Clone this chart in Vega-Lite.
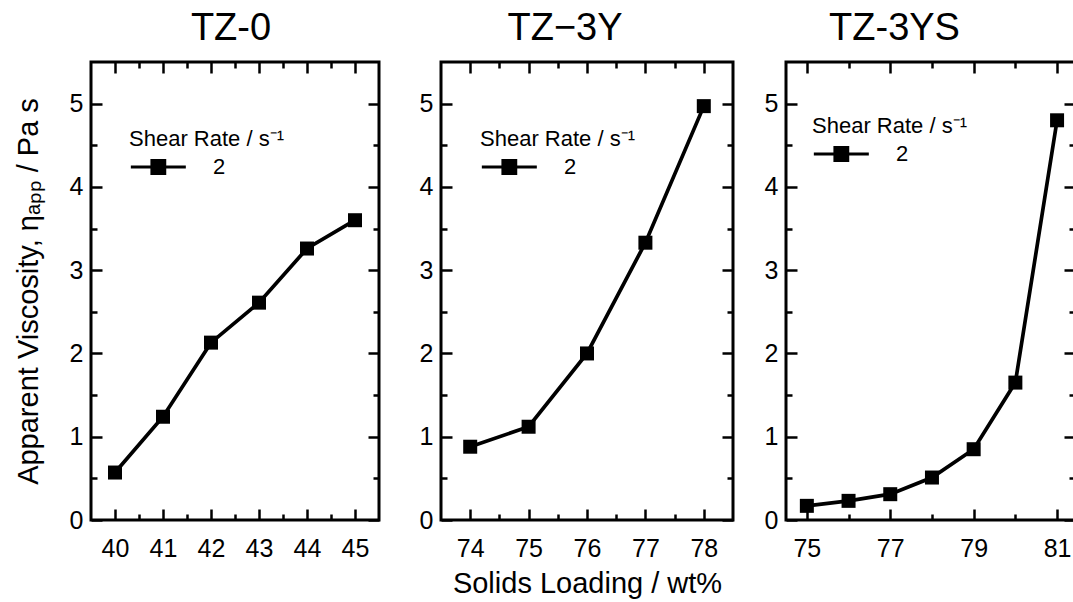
{
  "$schema": "https://vega.github.io/schema/vega-lite/v6.json",
  "padding": {"left": 12, "top": 8, "right": 0, "bottom": 0},
  "background": "white",
  "spacing": 6,
  "datasets": {
    "tz0": [
      {"x": 40, "y": 0.57, "rate": "2"},
      {"x": 41, "y": 1.24, "rate": "2"},
      {"x": 42, "y": 2.13, "rate": "2"},
      {"x": 43, "y": 2.61, "rate": "2"},
      {"x": 44, "y": 3.26, "rate": "2"},
      {"x": 45, "y": 3.6, "rate": "2"}
    ],
    "tz3y": [
      {"x": 74, "y": 0.88, "rate": "2"},
      {"x": 75, "y": 1.12, "rate": "2"},
      {"x": 76, "y": 2.0, "rate": "2"},
      {"x": 77, "y": 3.33, "rate": "2"},
      {"x": 78, "y": 4.97, "rate": "2"}
    ],
    "tz3ys": [
      {"x": 75, "y": 0.17, "rate": "2"},
      {"x": 76, "y": 0.23, "rate": "2"},
      {"x": 77, "y": 0.31, "rate": "2"},
      {"x": 78, "y": 0.51, "rate": "2"},
      {"x": 79, "y": 0.85, "rate": "2"},
      {"x": 80, "y": 1.65, "rate": "2"},
      {"x": 81, "y": 4.8, "rate": "2"}
    ]
  },
  "hconcat": [
    {
      "width": 288, "height": 458,
      "title": {"text": "TZ-0", "frame": "group", "dx": -4},
      "data": {"name": "tz0"},
      "encoding": {
        "x": {"field": "x", "type": "quantitative", "scale": {"domain": [39.5, 45.5], "nice": false, "zero": false}},
        "y": {"field": "y", "type": "quantitative", "scale": {"domain": [0, 5.5], "nice": false}}
      },
      "layer": [
        {
          "mark": {"type": "line", "color": "black", "strokeWidth": 3.7},
          "encoding": {
            "x": {"field": "x", "type": "quantitative", "axis": {"orient": "bottom", "title": null, "values": [40, 41, 42, 43, 44, 45], "format": "d", "tickSize": -11, "labelPadding": 27}},
            "y": {"field": "y", "type": "quantitative", "axis": {"orient": "left", "title": "Apparent Viscosity, ηₐₚₚ / Pa s", "values": [0, 1, 2, 3, 4, 5], "format": "d", "tickSize": -11, "labelPadding": 19, "minExtent": 40, "maxExtent": 40, "titlePadding": 8}}
          }
        },
        {
          "mark": {"type": "point", "shape": "square", "filled": true, "size": 196, "opacity": 1},
          "encoding": {
            "x": {"field": "x", "type": "quantitative", "axis": {"orient": "top", "title": null, "labels": false, "values": [40, 41, 42, 43, 44, 45], "tickSize": -11, "minExtent": 0, "maxExtent": 0}},
            "y": {"field": "y", "type": "quantitative", "axis": {"orient": "right", "title": null, "labels": false, "values": [0, 1, 2, 3, 4, 5], "tickSize": -11, "minExtent": 0, "maxExtent": 0}},
            "color": {"field": "rate", "type": "nominal", "scale": {"range": ["black"]},
              "legend": {"title": "Shear Rate / s⁻¹", "orient": "none", "legendX": 38, "legendY": 67}}
          }
        },
        {
          "mark": {"type": "point", "opacity": 0},
          "encoding": {
            "x": {"field": "x", "type": "quantitative", "axis": {"orient": "bottom", "title": null, "labels": false, "values": [40.5, 41.5, 42.5, 43.5, 44.5], "tickSize": -6, "minExtent": 0, "maxExtent": 0}},
            "y": {"field": "y", "type": "quantitative", "axis": {"orient": "left", "title": null, "labels": false, "values": [0.5, 1.5, 2.5, 3.5, 4.5], "tickSize": -6, "minExtent": 0, "maxExtent": 0}}
          }
        },
        {
          "mark": {"type": "point", "opacity": 0},
          "encoding": {
            "x": {"field": "x", "type": "quantitative", "axis": {"orient": "top", "title": null, "labels": false, "values": [40.5, 41.5, 42.5, 43.5, 44.5], "tickSize": -6, "minExtent": 0, "maxExtent": 0}},
            "y": {"field": "y", "type": "quantitative", "axis": {"orient": "right", "title": null, "labels": false, "values": [0.5, 1.5, 2.5, 3.5, 4.5], "tickSize": -6, "minExtent": 0, "maxExtent": 0}}
          }
        }
      ],
      "resolve": {"axis": {"x": "independent", "y": "independent"}}
    },
    {
      "width": 292, "height": 458,
      "title": {"text": "TZ−3Y", "frame": "group", "dx": -22},
      "data": {"name": "tz3y"},
      "encoding": {
        "x": {"field": "x", "type": "quantitative", "scale": {"domain": [73.5, 78.5], "nice": false, "zero": false}},
        "y": {"field": "y", "type": "quantitative", "scale": {"domain": [0, 5.5], "nice": false}}
      },
      "layer": [
        {
          "mark": {"type": "line", "color": "black", "strokeWidth": 3.7},
          "encoding": {
            "x": {"field": "x", "type": "quantitative", "axis": {"orient": "bottom", "title": "Solids Loading / wt%", "values": [74, 75, 76, 77, 78], "format": "d", "tickSize": -11, "labelPadding": 27, "titlePadding": 8}},
            "y": {"field": "y", "type": "quantitative", "axis": {"orient": "left", "title": null, "values": [0, 1, 2, 3, 4, 5], "format": "d", "tickSize": -11, "labelPadding": 19, "minExtent": 51, "maxExtent": 51}}
          }
        },
        {
          "mark": {"type": "point", "shape": "square", "filled": true, "size": 196, "opacity": 1},
          "encoding": {
            "x": {"field": "x", "type": "quantitative", "axis": {"orient": "top", "title": null, "labels": false, "values": [74, 75, 76, 77, 78], "tickSize": -11, "minExtent": 0, "maxExtent": 0}},
            "y": {"field": "y", "type": "quantitative", "axis": {"orient": "right", "title": null, "labels": false, "values": [0, 1, 2, 3, 4, 5], "tickSize": -11, "minExtent": 0, "maxExtent": 0}},
            "color": {"field": "rate", "type": "nominal", "scale": {"range": ["black"]},
              "legend": {"title": "Shear Rate / s⁻¹", "orient": "none", "legendX": 39, "legendY": 67}}
          }
        },
        {
          "mark": {"type": "point", "opacity": 0},
          "encoding": {
            "x": {"field": "x", "type": "quantitative", "axis": {"orient": "bottom", "title": null, "labels": false, "values": [74.5, 75.5, 76.5, 77.5], "tickSize": -6, "minExtent": 0, "maxExtent": 0}},
            "y": {"field": "y", "type": "quantitative", "axis": {"orient": "left", "title": null, "labels": false, "values": [0.5, 1.5, 2.5, 3.5, 4.5], "tickSize": -6, "minExtent": 0, "maxExtent": 0}}
          }
        },
        {
          "mark": {"type": "point", "opacity": 0},
          "encoding": {
            "x": {"field": "x", "type": "quantitative", "axis": {"orient": "top", "title": null, "labels": false, "values": [74.5, 75.5, 76.5, 77.5], "tickSize": -6, "minExtent": 0, "maxExtent": 0}},
            "y": {"field": "y", "type": "quantitative", "axis": {"orient": "right", "title": null, "labels": false, "values": [0.5, 1.5, 2.5, 3.5, 4.5], "tickSize": -6, "minExtent": 0, "maxExtent": 0}}
          }
        }
      ],
      "resolve": {"axis": {"x": "independent", "y": "independent"}}
    },
    {
      "width": 289, "height": 458,
      "title": {"text": "TZ-3YS", "frame": "group", "dx": -36},
      "data": {"name": "tz3ys"},
      "encoding": {
        "x": {"field": "x", "type": "quantitative", "scale": {"domain": [74.5, 81.43], "nice": false, "zero": false}},
        "y": {"field": "y", "type": "quantitative", "scale": {"domain": [0, 5.5], "nice": false}}
      },
      "layer": [
        {
          "mark": {"type": "line", "color": "black", "strokeWidth": 3.7},
          "encoding": {
            "x": {"field": "x", "type": "quantitative", "axis": {"orient": "bottom", "title": null, "values": [75, 77, 79, 81], "format": "d", "tickSize": -11, "labelPadding": 27}},
            "y": {"field": "y", "type": "quantitative", "axis": {"orient": "left", "title": null, "values": [0, 1, 2, 3, 4, 5], "format": "d", "tickSize": -11, "labelPadding": 19, "minExtent": 42, "maxExtent": 42}}
          }
        },
        {
          "mark": {"type": "point", "shape": "square", "filled": true, "size": 196, "opacity": 1},
          "encoding": {
            "x": {"field": "x", "type": "quantitative", "axis": {"orient": "top", "title": null, "labels": false, "values": [75, 77, 79, 81], "tickSize": -11, "minExtent": 0, "maxExtent": 0}},
            "y": {"field": "y", "type": "quantitative", "axis": {"orient": "right", "title": null, "labels": false, "values": [0, 1, 2, 3, 4, 5], "tickSize": -11, "minExtent": 0, "maxExtent": 0}},
            "color": {"field": "rate", "type": "nominal", "scale": {"range": ["black"]},
              "legend": {"title": "Shear Rate / s⁻¹", "orient": "none", "legendX": 26, "legendY": 54}}
          }
        },
        {
          "mark": {"type": "point", "opacity": 0},
          "encoding": {
            "x": {"field": "x", "type": "quantitative", "axis": {"orient": "bottom", "title": null, "labels": false, "values": [76, 78, 80], "tickSize": -6, "minExtent": 0, "maxExtent": 0}},
            "y": {"field": "y", "type": "quantitative", "axis": {"orient": "left", "title": null, "labels": false, "values": [0.5, 1.5, 2.5, 3.5, 4.5], "tickSize": -6, "minExtent": 0, "maxExtent": 0}}
          }
        },
        {
          "mark": {"type": "point", "opacity": 0},
          "encoding": {
            "x": {"field": "x", "type": "quantitative", "axis": {"orient": "top", "title": null, "labels": false, "values": [76, 78, 80], "tickSize": -6, "minExtent": 0, "maxExtent": 0}},
            "y": {"field": "y", "type": "quantitative", "axis": {"orient": "right", "title": null, "labels": false, "values": [0.5, 1.5, 2.5, 3.5, 4.5], "tickSize": -6, "minExtent": 0, "maxExtent": 0}}
          }
        }
      ],
      "resolve": {"axis": {"x": "independent", "y": "independent"}}
    }
  ],
  "resolve": {"scale": {"color": "independent"}, "legend": {"color": "independent"}},
  "config": {
    "font": "Liberation Sans",
    "view": {"stroke": "black", "strokeWidth": 3},
    "axis": {
      "domain": false, "grid": false,
      "labelFont": "Liberation Sans", "labelFontSize": 25, "labelColor": "black",
      "labelOverlap": false, "labelFlush": false,
      "tickColor": "black", "tickWidth": 2.5,
      "titleFont": "Liberation Sans", "titleFontSize": 29, "titleFontWeight": "normal", "titleColor": "black",
      "titlePadding": 6
    },
    "legend": {
      "padding": 0,
      "titleFont": "Liberation Sans", "titleFontSize": 22, "titleFontWeight": "normal", "titleColor": "black",
      "titlePadding": 5, "titleLimit": 400,
      "labelFont": "Liberation Sans", "labelFontSize": 22, "labelColor": "black",
      "symbolType": "M-1,0H5M1.3,-0.72H2.7V0.72H1.3Z",
      "symbolSize": 336, "symbolStrokeWidth": 3, "symbolStrokeColor": "black", "symbolFillColor": "black",
      "labelOffset": 62
    },
    "title": {
      "font": "Liberation Sans", "fontSize": 38, "fontWeight": "normal", "color": "black",
      "anchor": "middle", "offset": 13
    }
  }
}
